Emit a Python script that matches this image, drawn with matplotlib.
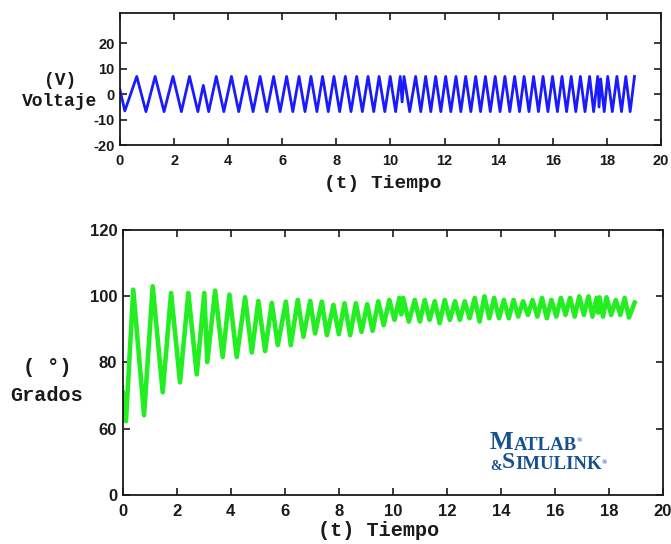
import numpy as np
import matplotlib
matplotlib.use("Agg")
import matplotlib.pyplot as plt

# voltaje: picos y valles
volt_start = [0.0, 1.7]
volt_peak_t = [0.62, 1.30, 1.96, 2.57, 3.08, 3.56, 4.12, 4.66, 5.18, 5.68,
               6.16, 6.62, 7.06, 7.49, 7.91, 8.33, 8.75, 9.17, 9.58, 9.99,
               10.36, 10.50, 10.93, 11.30, 11.67, 12.04, 12.42, 12.78, 13.15, 13.51,
               13.87, 14.23, 14.59, 14.94, 15.29, 15.64, 15.99, 16.34, 16.68, 17.02,
               17.36, 17.66, 17.77, 18.03, 18.37, 18.70, 19.02]
volt_peak_v = [7.0, 7.0, 7.0, 7.0, 3.5, 7.0, 7.0, 7.0, 7.0, 7.0,
               7.0, 7.0, 7.0, 7.0, 7.0, 7.0, 7.0, 7.0, 7.0, 7.0,
               7.0, 7.0, 7.0, 7.0, 7.0, 7.0, 7.0, 7.0, 7.0, 7.0,
               7.0, 7.0, 7.0, 7.0, 7.0, 7.0, 7.0, 7.0, 7.0, 7.0,
               7.0, 7.0, 6.0, 7.0, 7.0, 7.0, 7.0]
volt_trough_t = [0.18, 0.96, 1.63, 2.27, 2.88, 3.28, 3.84, 4.39, 4.92, 5.43,
                 5.92, 6.39, 6.84, 7.28, 7.70, 8.12, 8.54, 8.96, 9.38, 9.79,
                 10.19, 10.43, 10.71, 11.12, 11.49, 11.86, 12.23, 12.60, 12.97, 13.33,
                 13.69, 14.05, 14.41, 14.77, 15.12, 15.47, 15.82, 16.17, 16.51, 16.85,
                 17.19, 17.51, 17.71, 17.90, 18.20, 18.54, 18.86]
volt_trough_v = [-6.5, -6.8, -6.8, -6.8, -6.8, -6.8, -6.8, -6.8, -6.8, -6.8,
                 -6.8, -6.8, -6.8, -6.8, -6.8, -6.8, -6.8, -6.8, -6.8, -6.8,
                 -6.8, -3.0, -6.8, -6.8, -6.8, -6.8, -6.8, -6.8, -6.8, -6.8,
                 -6.8, -6.8, -6.8, -6.8, -6.8, -6.8, -6.8, -6.8, -6.8, -6.8,
                 -6.8, -6.8, -5.0, -6.8, -6.8, -6.8, -6.8]

# grados: picos y valles
grad_start = [0.0, 71.0]
grad_peak_t = [0.39, 1.11, 1.79, 2.43, 3.02, 3.42, 3.95, 4.53, 5.02, 5.52,
               6.04, 6.48, 6.94, 7.37, 7.80, 8.21, 8.63, 9.05, 9.46, 9.87,
               10.24, 10.38, 10.81, 11.18, 11.55, 11.92, 12.30, 12.66, 13.03, 13.39,
               13.75, 14.11, 14.47, 14.82, 15.17, 15.52, 15.87, 16.22, 16.56, 16.90,
               17.24, 17.54, 17.65, 17.91, 18.25, 18.58, 18.95]
grad_peak_v = [101.9, 102.9, 100.9, 100.9, 100.9, 101.6, 100.4, 99.6, 98.5, 97.9,
               98.3, 98.8, 98.5, 98.3, 97.3, 97.8, 97.8, 97.5, 98.4, 98.8,
               99.4, 99.4, 98.8, 98.8, 98.4, 98.8, 98.4, 98.4, 99.4, 99.9,
               99.4, 98.8, 98.8, 98.4, 98.8, 99.4, 98.8, 99.4, 99.4, 99.9,
               99.9, 99.4, 99.6, 99.6, 98.8, 99.4, 98.0]
grad_trough_t = [0.12, 0.79, 1.48, 2.12, 2.74, 3.13, 3.70, 4.22, 4.78, 5.27,
                 5.74, 6.22, 6.69, 7.12, 7.56, 8.00, 8.42, 8.84, 9.25, 9.66,
                 10.06, 10.31, 10.59, 11.00, 11.36, 11.73, 12.11, 12.48, 12.84, 13.21,
                 13.57, 13.93, 14.29, 14.64, 15.00, 15.35, 15.70, 16.05, 16.39, 16.73,
                 17.07, 17.39, 17.60, 17.78, 18.08, 18.42, 18.74]
grad_trough_v = [62.3, 64.1, 71.0, 74.0, 76.4, 80.1, 81.6, 81.6, 83.0, 83.4,
                 85.2, 85.2, 87.7, 88.7, 88.2, 88.5, 88.2, 89.2, 89.5, 91.2,
                 92.8, 94.5, 92.3, 92.3, 92.8, 91.8, 92.8, 92.8, 93.3, 92.3,
                 93.3, 93.3, 93.3, 93.8, 94.3, 93.8, 93.3, 93.8, 94.3, 93.8,
                 94.3, 93.8, 95.0, 93.8, 94.3, 94.3, 93.5]

x_ticks = [0, 2, 4, 6, 8, 10, 12, 14, 16, 18, 20]
volt_ticks = [-20, -10, 0, 10, 20]
grad_ticks = [40, 60, 80, 100, 120]
grad_ticklabels = ['0', '60', '80', '100', '120']


def merge(start, pt, pv, tt, tv):
    t = np.concatenate([[start[0]], pt, tt])
    v = np.concatenate([[start[1]], pv, tv])
    o = np.argsort(t)
    return t[o], v[o]


def style_axes(ax, fs):
    for s in ax.spines.values():
        s.set_linewidth(1.3)
        s.set_color('#1a1a1a')
    ax.tick_params(direction='in', top=True, right=True, length=5, width=1.2,
                   labelsize=fs, pad=4, colors='#1a1a1a')
    ax.tick_params(axis='x', pad=6)
    for lab in ax.get_xticklabels() + ax.get_yticklabels():
        lab.set_fontweight('bold')
        lab.set_family('Liberation Sans')


plt.rcParams['axes.unicode_minus'] = False
label_font = dict(family='Liberation Mono', fontweight='bold', color='#1a1a1a')

fig = plt.figure(figsize=(6.71, 5.44), dpi=100)

# voltaje
ax1 = fig.add_axes([0.1788, 0.7329, 0.8063, 0.2438])
t1, v1 = merge(volt_start, volt_peak_t, volt_peak_v, volt_trough_t, volt_trough_v)
ax1.plot(t1, v1, color='#1a1aff', linewidth=2.0, solid_joinstyle='round')
ax1.set_xlim(0, 20)
ax1.set_ylim(-20, 32)
ax1.set_xticks(x_ticks)
ax1.set_yticks(volt_ticks)
style_axes(ax1, 10.5)
ax1.set_xlabel('(t) Tiempo', fontsize=14, **label_font)
ax1.xaxis.set_label_coords(0.486, -0.225)
ax1.set_ylabel('(V)\nVoltaje', fontsize=13, rotation=0, linespacing=1.35,
               ha='center', va='center', **label_font)
ax1.yaxis.set_label_coords(-0.111, 0.41)

# grados
ax2 = fig.add_axes([0.1829, 0.0895, 0.8052, 0.4886])
t2, v2 = merge(grad_start, grad_peak_t, grad_peak_v, grad_trough_t, grad_trough_v)
ax2.plot(t2, v2, color='#22ee22', linewidth=3.3, solid_joinstyle='round')
ax2.set_xlim(0, 20)
ax2.set_ylim(40, 120)
ax2.set_xticks(x_ticks)
ax2.set_yticks(grad_ticks)
ax2.set_yticklabels(grad_ticklabels)
style_axes(ax2, 12)
ax2.set_xlabel('(t) Tiempo', fontsize=14.5, **label_font)
ax2.xaxis.set_label_coords(0.474, -0.095)
ax2.set_ylabel('( °)\nGrados', fontsize=14.5, rotation=0, linespacing=1.6,
               ha='center', va='center', **label_font)
ax2.yaxis.set_label_coords(-0.14, 0.43)

# logo
logo = dict(family='Liberation Serif', color='#17508f', fontweight='bold')
m = ax2.text(0.68, 0.174, 'M', fontsize=18, transform=ax2.transAxes, **logo)
a = ax2.annotate('ATLAB', xy=(1, 0), xycoords=m, fontsize=13.5, va='bottom', **logo)
ax2.annotate('®', xy=(1, 0.6), xycoords=a, fontsize=5, va='bottom', **logo)
amp = ax2.text(0.681, 0.095, '&', fontsize=10, transform=ax2.transAxes, **logo)
s = ax2.annotate('S', xy=(1, 0), xycoords=amp, fontsize=17, va='bottom', **logo)
sim = ax2.annotate('IMULINK', xy=(1, 0), xycoords=s, fontsize=13.5, va='bottom', **logo)
ax2.annotate('®', xy=(1, 0.45), xycoords=sim, fontsize=5, va='bottom', **logo)

fig.savefig('out.png', dpi=100)
